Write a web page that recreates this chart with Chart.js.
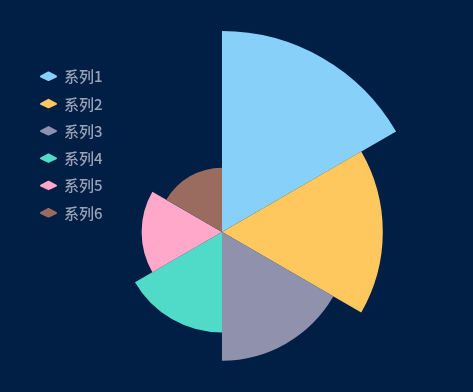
<!DOCTYPE html>
<html>
<head>
<meta charset="utf-8">
<script src="https://cdn.jsdelivr.net/npm/chart.js@4.4.0/dist/chart.umd.min.js"></script>
<style>
  html, body { margin: 0; padding: 0; width: 473px; height: 392px; overflow: hidden; background: #011e45; }
  #wrap { position: absolute; left: 0; top: 0; width: 473px; height: 464px; }
</style>
</head>
<body>
<div id="wrap"><canvas id="ChartCanvas"></canvas></div>
<script>
const labels = ['系列1', '系列2', '系列3', '系列4', '系列5', '系列6'];
const values = [100, 80, 64, 50, 40, 32];
const colors = ['#87d0f9', '#fec85f', '#8f91ad', '#4fdbc8', '#ffa8c9', '#9a6b5f'];

const sideLegend = {
  id: 'sideLegend',
  afterDraw: chart => {
    const ctx = chart.ctx;
    ctx.save();
    ctx.font = '500 15px "Noto Sans CJK SC", "Noto Sans", sans-serif';
    ctx.textBaseline = 'middle';
    labels.forEach((name, i) => {
      const y = 76 + i * 27.3;
      const x = 41;
      // rounded diamond icon
      ctx.beginPath();
      ctx.moveTo(x, y + 0.5);
      ctx.lineTo(x + 7.5, y - 3.5);
      ctx.lineTo(x + 15, y + 0.5);
      ctx.lineTo(x + 7.5, y + 4);
      ctx.closePath();
      ctx.fillStyle = colors[i];
      ctx.strokeStyle = colors[i];
      ctx.lineJoin = 'round';
      ctx.lineWidth = 2;
      ctx.fill();
      ctx.stroke();
      ctx.fillStyle = '#9aa2b5';
      ctx.fillText(name, 64, y + 0.5);
    });
    ctx.restore();
  }
};

new Chart(document.getElementById('ChartCanvas'), {
  type: 'polarArea',
  data: {
    labels: labels,
    datasets: [{
      data: values,
      backgroundColor: colors,
      borderWidth: 0
    }]
  },
  options: {
    animation: false,
    responsive: true,
    maintainAspectRatio: false,
    layout: { padding: { left: 21, right: 50, top: 31, bottom: 31 } },
    scales: {
      r: { display: false, min: 0, max: 100 }
    },
    plugins: {
      legend: { display: false },
      tooltip: { enabled: false }
    }
  },
  plugins: [sideLegend]
});
</script>
</body>
</html>
